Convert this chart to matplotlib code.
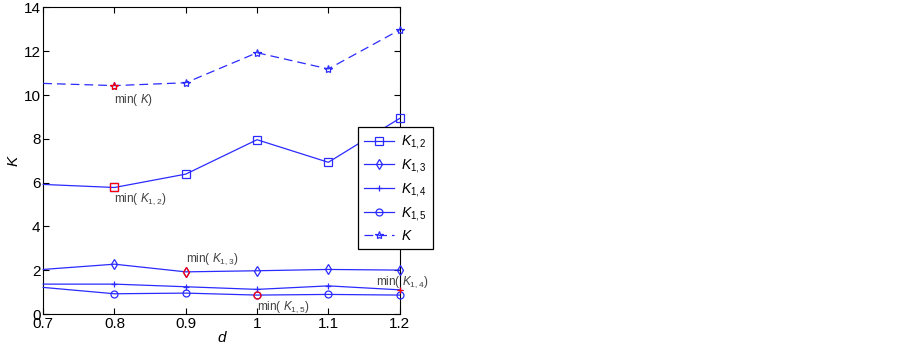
import matplotlib
matplotlib.use('Agg')
import matplotlib.pyplot as plt

plt.rcParams['font.family'] = ['Liberation Sans', 'DejaVu Sans']
plt.rcParams['mathtext.fontset'] = 'custom'
plt.rcParams['mathtext.rm'] = 'Liberation Sans'
plt.rcParams['mathtext.it'] = 'Liberation Sans:italic'

# values
d = [0.7, 0.8, 0.9, 1.0, 1.1, 1.2]
K12 = [5.92, 5.78, 6.39, 7.96, 6.93, 8.93]
K13 = [2.04, 2.28, 1.93, 1.98, 2.04, 2.01]
K14 = [1.37, 1.37, 1.25, 1.13, 1.29, 1.11]
K15 = [1.22, 0.93, 0.96, 0.87, 0.90, 0.87]
K = [10.53, 10.43, 10.56, 11.93, 11.19, 12.97]

series = [
    (K12, 's', 6, r'$\mathit{K}_{\mathit{1,2}}$', '-'),
    (K13, 'd', 5.5, r'$\mathit{K}_{\mathit{1,3}}$', '-'),
    (K14, '+', 5, r'$\mathit{K}_{\mathit{1,4}}$', '-'),
    (K15, 'o', 5, r'$\mathit{K}_{\mathit{1,5}}$', '-'),
    (K, '*', 6, r'$\mathit{K}$', (0, (7, 4))),
]

# annotation text: (label, x, y)
notes = [
    (r'min( $\mathit{K}$)', 0.8, 10.15),
    (r'min( $\mathit{K}_{\mathit{1,2}}$)', 0.8, 5.6),
    (r'min( $\mathit{K}_{\mathit{1,3}}$)', 0.9, 2.85),
    (r'min( $\mathit{K}_{\mathit{1,4}}$)', 1.167, 1.82),
    (r'min( $\mathit{K}_{\mathit{1,5}}$)', 1.0, 0.66),
]

blue = '#2b2bff'

fig = plt.figure(figsize=(9, 3.51), dpi=100)
ax = fig.add_axes([0.048, 0.105, 0.396, 0.874])

handles = []
for vals, mk, ms, lab, ls in series:
    line, = ax.plot(d, vals, color=blue, lw=0.9, ls=ls, marker=mk, ms=ms,
                    mfc='none', mec=blue, mew=0.9, markevery=slice(1, None),
                    label=lab, clip_on=False, zorder=3)
    handles.append(line)
    i = vals.index(min(vals))
    ax.plot(d[i], vals[i], ls='none', marker=mk, ms=ms, mfc='none',
            mec='red', mew=0.9, clip_on=False, zorder=4)

for txt, x, y in notes:
    ax.text(x, y, txt, fontsize=8.5, color='#404040', ha='left', va='top')

ax.set_xlim(0.7, 1.2)
ax.set_ylim(0, 14)
ax.set_xticks(d)
ax.set_xticklabels(['0.7', '0.8', '0.9', '1', '1.1', '1.2'])
ax.set_yticks(range(0, 15, 2))
ax.tick_params(direction='in', top=True, right=True, length=4, labelsize=11, pad=2)
ax.set_xlabel('d', style='italic', fontsize=11, labelpad=0)
ax.set_ylabel('K', style='italic', fontsize=11, labelpad=2)

leg = fig.legend(handles=handles, loc='upper left', bbox_to_anchor=(0.398, 0.638),
                 borderaxespad=0, fontsize=10, frameon=True, fancybox=False,
                 framealpha=1, edgecolor='black', handlelength=2.1,
                 labelspacing=0.42, borderpad=0.45, handletextpad=0.5)
leg.get_frame().set_linewidth(0.9)

fig.savefig('out.png', dpi=100)
